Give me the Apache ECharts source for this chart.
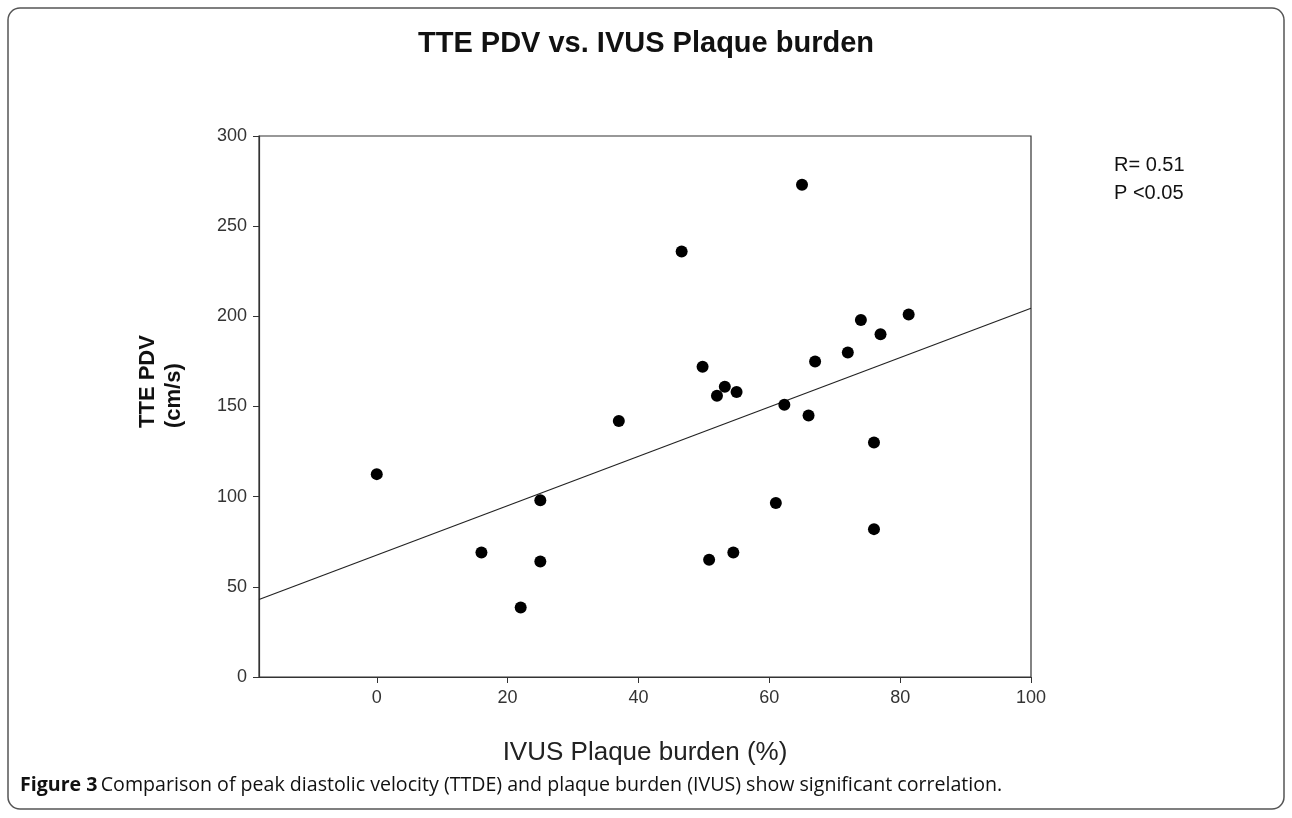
<!DOCTYPE html>
<html>
<head>
<meta charset="utf-8">
<script src="https://cdn.jsdelivr.net/npm/echarts@6/dist/echarts.min.js"></script>
<style>
html,body{margin:0;padding:0;background:#fff;}
#chart{width:1292px;height:818px;}
</style>
</head>
<body>
<div id="chart"></div>
<script>
// IVUS plaque burden (%) and TTE PDV (cm/s)
const plaqueBurden = [65, 46.6, 81.3, 74, 77, 72, 67, 49.8, 53.2, 52, 55, 62.3, 66, 37, 76, 0, 25, 61, 76, 16, 54.5, 25, 50.8, 22];
const pdv = [273, 236, 201, 198, 190, 180, 175, 172, 161, 156, 158, 151, 145, 142, 130, 112.5, 98, 96.5, 82, 69, 69, 64, 65, 38.6];
// regression line end points as drawn
const fitX = [-18, 100];
const fitY = [43, 204.5];
const xTicks = [0, 20, 40, 60, 80, 100];
const yTicks = [0, 50, 100, 150, 200, 250, 300];

const chart = echarts.init(document.getElementById('chart'), null, {renderer: 'canvas'});
const pts = plaqueBurden.map((x, i) => [x, pdv[i]]);
const fit = fitX.map((x, i) => [x, fitY[i]]);
const font = 'Liberation Sans, Arial, sans-serif';

chart.setOption({
  animation: false,
  backgroundColor: '#fff',
  title: {
    text: 'TTE PDV vs. IVUS Plaque burden',
    left: 'center', top: 24,
    textStyle: {fontFamily: font, fontWeight: 'bold', fontSize: 29, color: '#111'}
  },
  grid: {left: 259, right: 261, top: 136, bottom: 141, show: true, borderColor: '#333', borderWidth: 1.2, backgroundColor: 'transparent'},
  xAxis: {
    type: 'value', min: -18, max: 100,
    axisLine: {show: true, onZero: false, lineStyle: {color: '#333', width: 1.2}},
    axisTick: {show: true, length: 6, lineStyle: {color: '#333'},
      customValues: xTicks},
    axisLabel: {fontFamily: font, fontSize: 18, color: '#333', margin: 12,
      customValues: xTicks},
    splitLine: {show: false},
    name: 'IVUS Plaque burden (%)', nameLocation: 'middle', nameGap: 63,
    nameTextStyle: {fontFamily: font, fontSize: 26, color: '#222'}
  },
  yAxis: {
    type: 'value', min: 0, max: 300, interval: 50,
    axisLine: {show: true, onZero: false, lineStyle: {color: '#333', width: 1.2}},
    axisTick: {show: true, length: 6, lineStyle: {color: '#333'}},
    axisLabel: {fontFamily: font, fontSize: 18, color: '#333', margin: 12},
    splitLine: {show: false}
  },
  graphic: [
    {type: 'text', x: 148, y: 428, rotation: Math.PI / 2, style: {text: 'TTE PDV', fontFamily: font, fontWeight: 'bold', fontSize: 22, fill: '#111', textAlign: 'left', textVerticalAlign: 'middle'}},
    {type: 'text', x: 174, y: 428, rotation: Math.PI / 2, style: {text: '(cm/s)', fontFamily: font, fontWeight: 'bold', fontSize: 22, fill: '#111', textAlign: 'left', textVerticalAlign: 'middle'}},
    {type: 'text', x: 1114, y: 151, style: {text: 'R= 0.51\nP <0.05', fontFamily: font, fontSize: 20, lineHeight: 28, fill: '#111'}},
    {type: 'rect', shape: {x: 8, y: 8, width: 1276, height: 801, r: 12}, style: {fill: 'none', stroke: '#555', lineWidth: 1.5}},
    {type: 'text', x: 20, y: 775, style: {rich: {b: {fontFamily: 'Open Sans, sans-serif', fontWeight: 'bold', fontSize: 19.6, fill: '#111'}, r: {fontFamily: 'Open Sans, sans-serif', fontSize: 19.6, fill: '#111'}}, text: '{b|Figure 3} {r|Comparison of peak diastolic velocity (TTDE) and plaque burden (IVUS) show significant correlation.}'}}
  ],
  series: [
    {type: 'line', data: fit, symbol: 'none', lineStyle: {color: '#222', width: 1.2}, silent: true, z: 1},
    {type: 'scatter', data: pts, symbol: 'circle', symbolSize: 12, itemStyle: {color: '#000', opacity: 1}, z: 2}
  ]
});
</script>
</body>
</html>
